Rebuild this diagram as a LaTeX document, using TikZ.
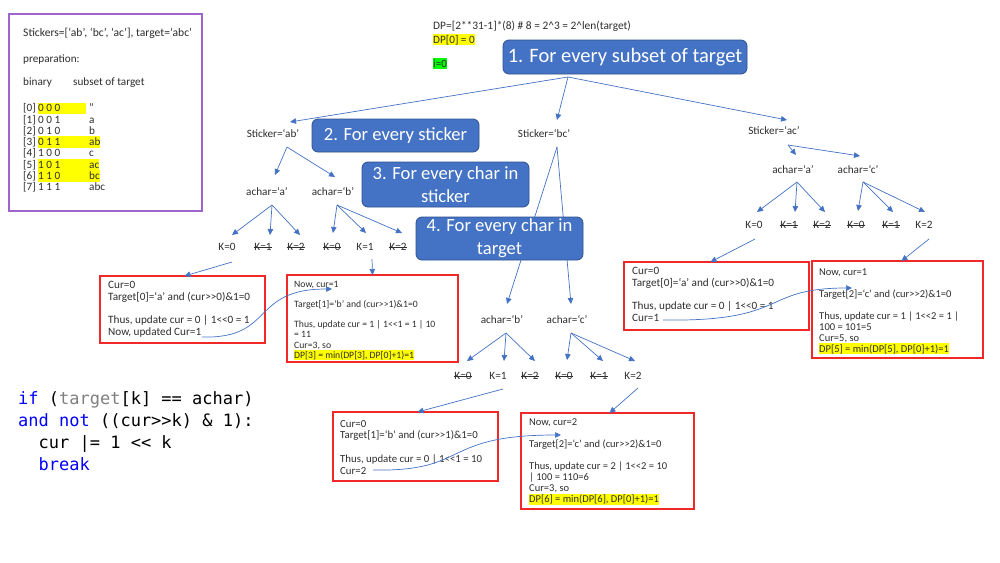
\documentclass[tikz,border=0pt]{standalone}
\usepackage{fontspec}
\setmainfont{Carlito}
\newfontfamily\carl{Carlito}
\newfontfamily\codefont{DejaVu Sans Mono}
\usetikzlibrary{arrows.meta,calc}
\definecolor{bluebox}{HTML}{4472C4}
\definecolor{blueedge}{HTML}{2F528F}
\definecolor{conn}{HTML}{4472C4}
\definecolor{purp}{HTML}{9E66CC}
\definecolor{redb}{HTML}{F02828}
\definecolor{hly}{HTML}{FFFF00}
\definecolor{hlg}{HTML}{00FF00}
\definecolor{kw}{HTML}{0000FF}
\definecolor{gr}{HTML}{808080}
\definecolor{txt}{HTML}{2E2E2E}
\newcommand\hlbox[2][hly]{{\setlength{\fboxsep}{0pt}\colorbox{#1}{\rule[-0.2em]{0pt}{1.03em}#2}}}
\newcommand\fstrut{\rule{0pt}{9pt}}
\newcommand\myfnt[2]{\carl\fontsize{#1}{#2}\selectfont\lineskiplimit=-100pt\lineskip=0pt\relax}
\begin{document}
\begin{tikzpicture}[x=1pt,y=-1pt,
  bbox/.style={draw=blueedge, fill=bluebox, rounded corners=6pt, line width=0.8pt, text=white,
    font=\myfnt{18.6}{23}, align=center, inner sep=0pt},
  rbox/.style={draw=redb, line width=1.2pt, inner sep=0pt, outer sep=0pt},
  lab/.style={font=\myfnt{11.2}{13}, text=txt, inner sep=0.5pt},
  kst/.style={lab, path picture={\draw[txt, line width=0.6pt] (path picture bounding box.west) -- (path picture bounding box.east);}},
  rtext/.style={anchor=north west, inner sep=0pt, align=left, text=txt},
  plain/.style={inner sep=0pt, text=txt, font=\myfnt{11.2}{11.3}},
  arr/.style={draw=conn, line width=0.7pt, -{Triangle[length=6pt,width=5.5pt]}}
]
\fill[white] (0,0) rectangle (1000,562);
\useasboundingbox (0,0) rectangle (1000,562);

% top blue box
\node[bbox, font=\myfnt{20.5}{24}, minimum width=244pt, minimum height=34pt] (b1) at (625,57) {1. For every subset of target};

% purple preparation box
\node[draw=purp, line width=1.2pt, minimum width=193pt, minimum height=197pt, inner sep=0pt] (pbox) at (105.5,112.5) {};
\node[plain, anchor=base west, font=\myfnt{11.6}{12}] (pt1) at (23,36) {Stickers=[‘ab’, ‘bc’, ‘ac’], target=‘abc’};
\node[plain, anchor=base west] (pt2) at (23,62) {preparation:};
\node[plain, anchor=base west] (pt3) at (23,85.5) {binary};
\node[plain, anchor=base west] (pt4) at (73,85.5) {subset of target};
\node[plain, anchor=north west, align=left] (rows) at (23,102.3) {%
\fstrut\makebox[15pt][l]{[0]}\hlbox{\makebox[48pt][l]{0 0 0}}\makebox[3pt]{}”\\
\makebox[15pt][l]{[1]}\makebox[51pt][l]{0 0 1}a\\
\makebox[15pt][l]{[2]}\makebox[51pt][l]{0 1 0}b\\
\makebox[15pt][l]{[3]}\hlbox{\makebox[51pt][l]{0 1 1}ab}\\
\makebox[15pt][l]{[4]}\makebox[51pt][l]{1 0 0}c\\
\makebox[15pt][l]{[5]}\hlbox{\makebox[51pt][l]{1 0 1}ac}\\
\makebox[15pt][l]{[6]}\hlbox{\makebox[51pt][l]{1 1 0}bc}\\
\makebox[15pt][l]{[7]}\makebox[51pt][l]{1 1 1}abc};

% DP texts
\node[plain, anchor=base west, font=\myfnt{11.4}{12}] (dp1) at (433,29) {DP=[2**31-1]*(8) \# 8 = 2\textasciicircum3 = 2\textasciicircum len(target)};
\node[plain, anchor=base west] (dp2) at (433,43) {\hlbox{DP[0] = 0}};
\node[plain, anchor=base west] (dp3) at (433,67) {\hlbox[hlg]{i=0}};

% tree labels
\node[lab] (sab) at (273,133) {Sticker=‘ab’};
\node[lab] (sbc) at (544,133) {Sticker=‘bc’};
\node[lab] (sac) at (774,131) {Sticker=‘ac’};
\node[lab] (aa1) at (267,191) {achar=‘a’};
\node[lab] (ab1) at (333,191) {achar=‘b’};
\node[lab] (ab2) at (502,319) {achar=‘b’};
\node[lab] (ac2) at (567,319) {achar=‘c’};
\node[lab] (aa3) at (793,169) {achar=‘a’};
\node[lab] (ac3) at (858,169) {achar=‘c’};

\node[lab] (k1a0) at (227,247) {K=0};
\node[kst] (k1a1) at (263,247) {K=1};
\node[kst] (k1a2) at (296,247) {K=2};
\node[kst] (k1b0) at (332,247) {K=0};
\node[lab] (k1b1) at (365,247) {K=1};
\node[kst] (k1b2) at (398,247) {K=2};

\node[kst] (k2b0) at (463,376) {K=0};
\node[lab] (k2b1) at (498,376) {K=1};
\node[kst] (k2b2) at (530,376) {K=2};
\node[kst] (k2c0) at (564,376) {K=0};
\node[kst] (k2c1) at (599,376) {K=1};
\node[lab] (k2c2) at (633,376) {K=2};

\node[lab] (k3a0) at (754,225) {K=0};
\node[kst] (k3a1) at (789,225) {K=1};
\node[kst] (k3a2) at (822,225) {K=2};
\node[kst] (k3c0) at (856,225) {K=0};
\node[kst] (k3c1) at (891,225) {K=1};
\node[lab] (k3c2) at (924,225) {K=2};

% red boxes
\node[rbox, minimum width=165pt, minimum height=67pt] (r1) at (182.5,309.5) {};
\node[rbox, minimum width=171pt, minimum height=87pt] (r2) at (372.5,318.5) {};
\node[rbox, minimum width=185pt, minimum height=68pt] (r3) at (716.5,296) {};
\node[rbox, minimum width=171pt, minimum height=97pt] (r4) at (897.5,309.5) {};
\node[rbox, minimum width=165pt, minimum height=69pt] (r5) at (415.5,446.5) {};
\node[rbox, minimum width=173pt, minimum height=96pt] (r6) at (607.5,461) {};

% red box texts
\node[rtext, font=\myfnt{11.2}{11.7}] (r1t) at (108,279.6) {\fstrut Cur=0\\Target[0]=‘a’ and (cur>>0)\&1=0\\[11.7pt]Thus, update cur = 0 | 1<<0 = 1\\Now, updated Cur=1};
\node[rtext, font=\myfnt{9.7}{10.15}] (r2t) at (294,278) {\fstrut Now, cur=1\\[10.15pt]Target[1]=‘b’ and (cur>>1)\&1=0\\[10.15pt]Thus, update cur = 1 | 1<<1 = 1 | 10\\= 11\\Cur=3, so\\\hlbox{DP[3] = min(DP[3], DP[0]+1)=1}};
\node[rtext, font=\myfnt{11.2}{11.7}] (r3t) at (632,265.6) {\fstrut Cur=0\\Target[0]=‘a’ and (cur>>0)\&1=0\\[11.7pt]Thus, update cur = 0 | 1<<0 = 1\\Cur=1};
\node[rtext, font=\myfnt{10.5}{10.9}] (r4t) at (819,266.6) {\fstrut Now, cur=1\\[10.9pt]Target[2]=‘c’ and (cur>>2)\&1=0\\[10.9pt]Thus, update cur = 1 | 1<<2 = 1 |\\100 = 101=5\\Cur=5, so\\\hlbox{DP[5] = min(DP[5], DP[0]+1)=1}};
\node[rtext, font=\myfnt{10.8}{11.7}] (r5t) at (340,418) {\fstrut Cur=0\\Target[1]=‘b’ and (cur>>1)\&1=0\\[11.7pt]Thus, update cur = 0 | 1<<1 = 10\\Cur=2};
\node[rtext, font=\myfnt{10.5}{11}] (r6t) at (529,416.3) {\fstrut Now, cur=2\\[11pt]Target[2]=‘c’ and (cur>>2)\&1=0\\[11pt]Thus, update cur = 2 | 1<<2 = 10\\| 100 = 110=6\\Cur=3, so\\\hlbox{DP[6] = min(DP[6], DP[0]+1)=1}};

% connectors of the tree
\coordinate (f0) at ($(b1.center)+(-57,20)$);
\draw[arr] (f0) -- ($(sab.center)+(17,-11)$);
\draw[arr] (f0) -- ($(sbc.center)+(13,-13)$);
\draw[arr] (f0) -- ($(sac.center)+(13,-11)$);

\coordinate (f1) at ($(sab.center)+(14,14)$);
\draw[arr] (f1) -- ($(aa1.center)+(8,-16)$);
\draw[arr] (f1) -- ($(ab1.center)+(2,-14)$);
\coordinate (f2) at ($(aa1.center)+(5,14)$);
\draw[arr] (f2) -- ($(k1a0.center)+(5,-12)$);
\draw[arr] (f2) -- ($(k1a1.center)+(7,-12)$);
\draw[arr] (f2) -- ($(k1a2.center)+(4,-12)$);
\coordinate (f3) at ($(ab1.center)+(4,14)$);
\draw[arr] (f3) -- ($(k1b0.center)+(1,-14)$);
\draw[arr] (f3) -- ($(k1b1.center)+(1,-14)$);
\draw[arr] (f3) -- ($(k1b2.center)+(4,-14)$);

\coordinate (f4) at ($(sbc.center)+(13,14)$);
\draw[arr] (f4) -- ($(ab2.center)+(5,-15)$);
\draw[arr] (f4) -- ($(ac2.center)+(4,-15)$);
\coordinate (f5) at ($(ab2.center)+(4,14)$);
\draw[arr] (f5) -- ($(k2b0.center)+(4,-15)$);
\draw[arr] (f5) -- ($(k2b1.center)+(6,-15)$);
\draw[arr] (f5) -- ($(k2b2.center)+(5,-15)$);
\coordinate (f6) at ($(ac2.center)+(4,14)$);
\draw[arr] (f6) -- ($(k2c0.center)+(3,-16)$);
\draw[arr] (f6) -- ($(k2c1.center)+(4,-15)$);
\draw[arr] (f6) -- ($(k2c2.center)+(2,-15)$);

\coordinate (f7) at ($(sac.center)+(14,14)$);
\draw[arr] (f7) -- ($(aa3.center)+(3,-14)$);
\draw[arr] (f7) -- ($(ac3.center)+(2,-13)$);
\coordinate (f8) at ($(aa3.center)+(4,13)$);
\draw[arr] (f8) -- ($(k3a0.center)+(3,-13)$);
\draw[arr] (f8) -- ($(k3a1.center)+(6,-13)$);
\draw[arr] (f8) -- ($(k3a2.center)+(3,-13)$);
\coordinate (f9) at ($(ac3.center)+(5,13)$);
\draw[arr] (f9) -- ($(k3c0.center)+(2,-14)$);
\draw[arr] (f9) -- ($(k3c1.center)+(2,-13)$);
\draw[arr] (f9) -- ($(k3c2.center)+(1,-13)$);

% K to red boxes
\draw[arr] ($(k1a0.center)+(5,15)$) -- ($(r1.north)+(2,0)$);
\draw[arr] ($(k1b1.center)+(7,12)$) -- (r2.north);
\draw[arr] ($(k3a0.center)+(1,14)$) -- ($(r3.north)+(-6,0)$);
\draw[arr] ($(k3c2.center)+(5,14)$) -- ($(r4.north)+(4,0)$);
\draw[arr] ($(k2b1.center)+(5,13)$) -- ($(r5.north)+(2,0)$);
\draw[arr] ($(k2c2.center)+(5,12)$) -- ($(r6.north)+(2,0)$);

% curved connectors between boxes
\coordinate (c1s) at (202,337);
\coordinate (c1e) at (332,289);
\coordinate (c2s) at (663,320);
\coordinate (c2e) at (852,288);
\coordinate (c3s) at (373,470);
\coordinate (c3e) at (561,435);
\draw[arr] (c1s) .. controls (275,339) and (250,289) .. (c1e);
\draw[arr] (c2s) .. controls (790,322) and (760,288) .. (c2e);
\draw[arr] (c3s) .. controls (470,472) and (440,435) .. (c3e);

% remaining blue boxes (on top of connectors)
\node[bbox, minimum width=167pt, minimum height=33pt] (b2) at (395.5,135.5) {2. For every sticker};
\node[bbox, minimum width=167pt, minimum height=45pt] (b3) at (445.5,184.5) {3. For every char in\\sticker};
\node[bbox, minimum width=167pt, minimum height=43pt] (b4) at (499.5,238.5) {4. For every char in\\target};

% code
\node[anchor=north west, inner sep=0pt, align=left, font=\codefont\fontsize{17}{22}\selectfont] (code) at (18,390) {%
\rule{0pt}{14pt}{\color{kw}if} ({\color{gr}target}[k] == achar)\\
{\color{kw}and} {\color{kw}not} ((cur>>k) \& 1):\\
\hphantom{xx}cur |= 1 << k\\
\hphantom{xx}{\color{kw}break}};
\end{tikzpicture}
\end{document}
